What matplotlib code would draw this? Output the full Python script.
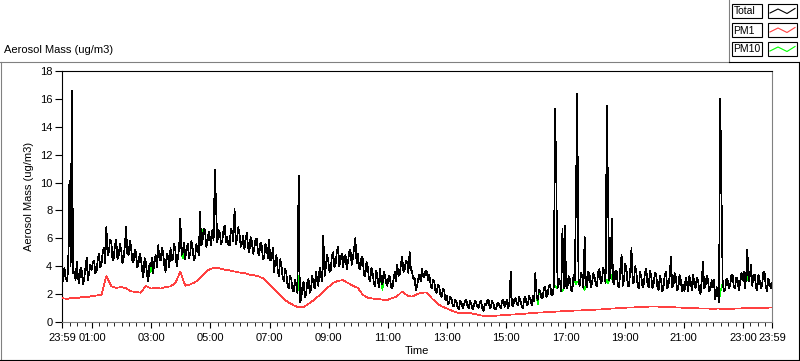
import numpy as np
import pandas as pd
import matplotlib
matplotlib.use("Agg")
import matplotlib.pyplot as plt
import matplotlib.dates as mdates
from matplotlib.lines import Line2D
from matplotlib.patches import Rectangle

plt.rcParams['font.family'] = ['Liberation Sans', 'DejaVu Sans']
plt.rcParams['font.size'] = 8

# Total aerosol mass at 23:59 + 0, 5, 10 ... min (one row per hour)
total_a = [
    3.4, 3.9, 2.9, 10.1, 16.6, 3.6, 4.3, 2.8, 3.7, 3.1, 4.6, 3.5,
    3.7, 4.4, 3.6, 4.9, 4.1, 5.3, 6.8, 5.0, 5.8, 4.6, 5.9, 4.8,
    5.2, 4.6, 6.8, 4.8, 5.4, 4.3, 5.0, 4.1, 4.6, 3.2, 4.3, 2.9,
    4.0, 3.5, 4.8, 5.5, 4.4, 5.0, 3.6, 4.7, 5.3, 4.5, 5.1, 4.6,
    7.4, 5.0, 4.5, 5.6, 4.9, 5.3, 4.6, 5.2, 7.9, 5.8, 6.6, 5.7,
    6.0, 6.6, 10.9, 5.7, 6.4, 5.8, 6.9, 6.1, 5.5, 6.5, 8.1, 6.0,
    6.3, 5.6, 5.2, 6.4, 5.0, 5.8, 5.3, 6.0, 4.8, 5.5, 4.6, 5.4,
    5.9, 4.5, 3.6, 4.8, 3.3, 4.1, 2.9, 3.5, 2.4, 3.1, 2.2, 2.7,
    10.5, 1.6, 2.9, 2.0, 3.1, 2.3, 2.8, 3.6, 2.6, 3.4, 6.2, 3.9,
    4.4, 3.7, 5.0, 4.2, 5.4, 4.5, 3.9, 4.8, 4.3, 5.2, 4.6, 6.0,
    4.9, 3.8, 4.5, 3.3, 4.0, 2.9, 3.5, 2.6, 3.2, 3.8, 2.7, 3.3,
    2.6, 3.2, 2.4, 3.6, 4.1, 3.4, 4.7, 3.8, 4.3, 5.0, 3.6, 3.2,
    2.5, 3.4, 3.8, 3.2, 3.6, 3.4, 2.4, 2.9, 2.1, 2.6, 1.8, 2.3,
    1.9, 1.4, 1.7, 1.1, 1.5, 0.9, 1.4, 1.2, 1.6, 1.0, 1.3, 1.1,
    1.4, 1.0, 1.5, 0.8, 1.2, 1.6, 1.1, 1.3, 0.9, 1.4, 1.0, 1.6,
    1.3, 1.0, 3.6, 1.1, 1.7, 1.2, 1.5, 1.0, 1.8, 1.3, 1.6, 1.9,
    3.5, 1.6, 2.2, 1.8, 2.5, 2.0, 2.7, 1.9, 15.3, 2.4, 2.9, 6.7,
    6.9, 2.4, 3.1, 2.2, 3.0, 16.4, 2.6, 3.3, 6.1, 2.5, 3.4, 2.8,
    3.3, 2.6, 3.8, 2.9, 3.5, 15.5, 3.0, 7.4, 2.7, 3.6, 2.5, 4.8,
    3.1, 3.7, 2.6, 5.3, 2.9, 3.5, 2.4, 3.2, 2.7, 3.8, 2.5, 3.3,
    2.8, 3.4, 2.3, 3.0, 2.5, 3.6, 2.7, 4.7, 2.6, 3.2, 2.4, 3.0,
    2.7, 3.2, 2.2, 2.9, 3.4, 2.4, 3.0, 2.0, 4.3, 2.6, 3.1, 2.3,
    2.5, 1.6, 2.2, 16.0, 2.8, 2.3, 3.0, 2.6, 3.4, 2.4, 3.1, 2.7,
    3.0, 2.4, 5.2, 3.3, 2.6, 3.4, 2.3, 3.0, 2.7, 3.5, 2.2, 2.8,
    2.8,
]

# Total at the half steps 23:59 + 2.5, 7.5, 12.5 ... min
total_b = [
    2.9, 3.2, 3.8, 4.0, 3.5, 3.0, 3.1, 3.9, 2.7, 3.9, 3.0, 4.1,
    4.3, 3.5, 4.5, 3.9, 5.0, 4.2, 4.8, 5.9, 4.4, 5.5, 4.5, 5.6,
    4.2, 5.5, 4.9, 5.8, 4.4, 5.2, 3.9, 4.9, 3.7, 4.6, 3.4, 4.2,
    4.6, 4.4, 3.9, 4.6, 5.3, 4.1, 4.9, 3.9, 4.4, 5.6, 4.0, 5.3,
    4.8, 5.7, 5.3, 4.6, 5.8, 4.4, 5.6, 4.8, 5.5, 6.7, 5.4, 6.5,
    5.5, 5.9, 8.2, 6.6, 5.6, 6.6, 5.7, 5.5, 6.7, 5.8, 5.6, 6.8,
    5.4, 6.2, 5.9, 5.3, 6.1, 4.9, 5.9, 5.0, 5.7, 4.5, 5.6, 4.6,
    4.4, 5.3, 4.4, 3.7, 4.5, 3.2, 3.8, 2.6, 3.3, 2.3, 3.0, 2.1,
    1.4, 2.5, 1.8, 2.8, 2.1, 3.3, 2.4, 3.0, 3.9, 2.9, 3.3, 4.8,
    3.6, 4.8, 3.9, 5.1, 4.0, 4.9, 4.7, 3.8, 5.0, 4.1, 5.3, 4.2,
    3.9, 4.7, 3.4, 4.3, 3.1, 3.9, 2.8, 3.7, 2.5, 2.9, 3.6, 2.8,
    3.3, 2.5, 3.1, 2.9, 3.3, 4.2, 3.6, 4.4, 3.5, 3.8, 3.1, 2.3,
    3.1, 2.9, 3.3, 3.7, 3.0, 2.7, 3.0, 2.2, 2.7, 1.9, 2.4, 1.6,
    1.3, 1.8, 1.2, 1.6, 1.0, 1.5, 1.0, 1.5, 1.1, 1.5, 0.9, 1.5,
    1.1, 1.4, 1.0, 1.3, 1.5, 1.0, 1.5, 0.9, 1.3, 1.1, 1.5, 1.1,
    1.6, 1.4, 1.2, 1.6, 1.3, 1.8, 1.1, 1.7, 1.2, 1.9, 1.2, 1.5,
    1.9, 2.3, 1.7, 2.4, 1.8, 2.6, 2.0, 2.6, 10.4, 3.1, 2.2, 2.4,
    2.6, 3.3, 2.3, 3.4, 9.3, 2.9, 3.5, 2.4, 2.7, 3.6, 2.5, 3.5,
    2.7, 3.6, 2.8, 3.9, 2.8, 8.9, 3.4, 2.9, 3.7, 2.6, 3.9, 2.6,
    4.2, 2.6, 3.7, 2.8, 4.0, 2.6, 3.6, 2.5, 3.6, 2.7, 3.7, 2.4,
    3.5, 2.5, 3.3, 2.2, 3.4, 2.4, 3.3, 2.5, 3.5, 2.3, 3.4, 2.2,
    2.2, 2.8, 3.3, 2.3, 2.7, 3.2, 2.3, 3.0, 2.4, 3.3, 2.2, 3.0,
    3.0, 2.5, 1.4, 9.6, 2.2, 3.1, 2.4, 3.3, 2.5, 3.2, 2.3, 3.5,
    3.6, 3.2, 2.9, 4.1, 3.3, 2.5, 3.4, 2.4, 3.6, 2.5, 3.1, 2.4,
]

# PM10 follows Total except where the green trace shows (minute -> value)
pm10_diff = {180: 3.6, 245: 4.6, 285: 6.4, 480: 3.3, 650: 2.3, 965: 1.3,
             1000: 2.6, 1002.5: 2.5, 1015: 2.2, 1042.5: 2.7, 1045: 2.9,
             1060: 2.3, 1105: 3.0, 1107.5: 2.8, 1115: 3.2, 1335: 2.2,
             1337.5: 2.4, 1390: 3.4}

# PM1, one value every 10 minutes
pm1 = [
    1.72, 1.65, 1.75, 1.70, 1.80, 1.78, 1.85, 1.90, 1.95, 3.30, 2.55, 2.45,
    2.50, 2.42, 2.20, 2.15, 2.10, 2.60, 2.40, 2.45, 2.40, 2.50, 2.55, 2.80,
    3.60, 2.60, 2.70, 2.85, 3.15, 3.55, 3.80, 3.90, 3.85, 3.75, 3.70, 3.62,
    3.55, 3.50, 3.40, 3.35, 3.25, 3.10, 2.70, 2.35, 2.00, 1.65, 1.38, 1.20,
    1.05, 1.08, 1.30, 1.55, 1.85, 2.20, 2.50, 2.80, 2.95, 3.00, 2.80, 2.60,
    2.45, 1.95, 1.75, 1.68, 1.65, 1.60, 1.58, 1.72, 1.85, 2.20, 1.90, 1.82,
    2.00, 2.10, 2.12, 1.70, 1.35, 1.12, 0.98, 0.82, 0.68, 0.62, 0.65, 0.62,
    0.55, 0.47, 0.43, 0.42, 0.45, 0.48, 0.50, 0.53, 0.55, 0.57, 0.60, 0.63,
    0.66, 0.68, 0.70, 0.72, 0.74, 0.76, 0.78, 0.80, 0.82, 0.83, 0.85, 0.86,
    0.88, 0.90, 0.92, 0.95, 0.97, 1.00, 1.02, 1.04, 1.05, 1.07, 1.08, 1.10,
    1.12, 1.10, 1.10, 1.08, 1.06, 1.04, 1.02, 1.00, 0.99, 0.98, 0.97, 0.96,
    0.95, 0.96, 0.95, 0.94, 0.95, 0.97, 0.98, 1.00, 0.99, 1.02, 1.03, 1.02,
    1.05,
]

y_ticks = [0, 2, 4, 6, 8, 10, 12, 14, 16, 18]
x_tick_times = ['2000-01-01 23:59', '2000-01-02 01:00', '2000-01-02 03:00',
                '2000-01-02 05:00', '2000-01-02 07:00', '2000-01-02 09:00',
                '2000-01-02 11:00', '2000-01-02 13:00', '2000-01-02 15:00',
                '2000-01-02 17:00', '2000-01-02 19:00', '2000-01-02 21:00',
                '2000-01-02 23:00', '2000-01-02 23:59']
legend_names = ['Total', 'PM1', 'PM10']
colors = ['black', '#ff4040', '#00ff00']

start = pd.Timestamp('2000-01-01 23:59')
sa = pd.Series(total_a, index=np.arange(len(total_a)) * 5.0)
sb = pd.Series(total_b, index=np.arange(len(total_b)) * 5.0 + 2.5)
total = pd.concat([sa, sb]).sort_index()
pm10 = total.copy()
for m, v in pm10_diff.items():
    pm10[m] = v
t_total = start + pd.to_timedelta(total.index, unit='min')
t_pm1 = pd.date_range(start, periods=len(pm1), freq='10min')

W, H = 800, 361
fig = plt.figure(figsize=(W / 100, H / 100), dpi=100)
ax = fig.add_axes([62 / W, 1 - 322 / H, 710 / W, 251 / H])

ax.plot(t_total, pm10.values, color=colors[2], lw=0.5, antialiased=False, zorder=1)
ax.plot(t_total, total.values, color=colors[0], lw=0.5, antialiased=False, zorder=2)
ax.plot(t_pm1, pm1, color=colors[1], lw=0.5, antialiased=False, zorder=3)

ax.set_xlim(t_total[0], t_total[-1])
ax.set_ylim(0, 18)
ax.set_yticks(y_ticks)
ax.set_xticks(pd.to_datetime(x_tick_times))
ax.xaxis.set_major_formatter(mdates.DateFormatter('%H:%M'))
ax.set_xticks(pd.date_range('2000-01-02 00:15', '2000-01-02 23:45', freq='15min'), minor=True)
ax.tick_params(axis='both', direction='out', colors='black', width=0.8, labelsize=8)
ax.tick_params(axis='y', length=5, pad=2)
ax.tick_params(axis='x', which='major', length=4, pad=4)
ax.tick_params(axis='x', which='minor', length=3)

for side, c in [('left', 'black'), ('top', 'black'), ('right', '#808080'), ('bottom', '#808080')]:
    ax.spines[side].set_color(c)
    ax.spines[side].set_linewidth(0.8)

ax.set_ylabel('Aerosol Mass (ug/m3)', fontsize=8, labelpad=4)
ax.set_xlabel('Time', fontsize=8, labelpad=2)

# chart title above the frame
fig.text(4 / W, 1 - 50 / H, 'Aerosol Mass (ug/m3)', fontsize=8, va='center', ha='left')


def fline(x0, y0, x1, y1, c):
    fig.add_artist(Line2D([x0 / W, x1 / W], [1 - y0 / H, 1 - y1 / H],
                          transform=fig.transFigure, color=c, lw=0.8))


fline(0, 61.5, 729, 61.5, '#808080')
fline(729, 0, 729, 61.5, '#808080')
fline(0.5, 61.5, 0.5, 361, '#808080')
fline(729, 62, 800, 62, 'black')
fline(0, 360, 800, 360, 'black')
fline(799, 62, 799, 360, 'black')

# legend boxes at the top right
for i, (name, c) in enumerate(zip(legend_names, colors)):
    y0 = 4 + i * 19
    fig.add_artist(Rectangle((732 / W, 1 - (y0 + 14) / H), 30 / W, 14 / H,
                             transform=fig.transFigure, fc='white', ec='black', lw=0.8))
    fig.add_artist(Rectangle((768 / W, 1 - (y0 + 14) / H), 29 / W, 14 / H,
                             transform=fig.transFigure, fc='white', ec='black', lw=0.8))
    fig.text(733.5 / W, 1 - (y0 + 7.5) / H, name, fontsize=7.5, va='center', ha='left')
    sx = [770, 778, 787, 795]
    sy = [y0 + 9, y0 + 5, y0 + 9.5, y0 + 4.5]
    fig.add_artist(Line2D([x / W for x in sx], [1 - y / H for y in sy],
                          transform=fig.transFigure, color=c, lw=0.8))

fig.savefig('out.png', dpi=100)
